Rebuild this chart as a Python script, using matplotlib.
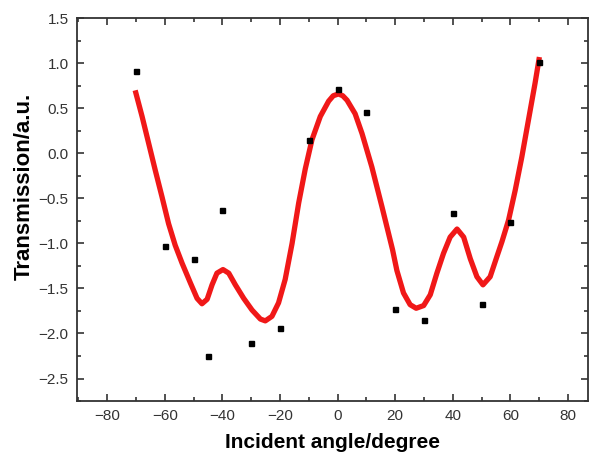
import numpy as np
import matplotlib
matplotlib.use("Agg")
from matplotlib import pyplot as plt
from matplotlib.ticker import MultipleLocator

# measured points
angle = [-70, -60, -50, -45, -40, -30, -20, -10, 0, 10, 20, 30, 40, 50, 60, 70]
trans = [0.91, -1.03, -1.17, -2.25, -0.63, -2.11, -1.94, 0.15, 0.72, 0.46,
         -1.73, -1.85, -0.66, -1.67, -0.76, 1.02]

# fitted curve
fit_x = [-70.3, -67.9, -65.6, -63.3, -61.0, -58.7, -56.4, -54.0, -51.1, -48.8,
         -47.1, -45.3, -43.6, -41.9, -39.8, -37.8, -35.5, -32.6, -29.7, -26.8,
         -25.1, -22.8, -20.5, -18.2, -15.8, -13.5, -11.2, -8.9, -6.0, -3.1,
         -1.5, 0.3, 1.8, 3.3, 6.1, 8.5, 11.9, 15.4, 19.1, 20.6, 22.9, 25.2,
         27.3, 29.9, 32.2, 34.5, 36.8, 39.1, 41.5, 43.8, 46.1, 48.4, 50.5,
         53.0, 55.3, 57.1, 59.4, 61.7, 64.0, 66.3, 68.6, 70.1]
fit_y = [0.70, 0.41, 0.11, -0.19, -0.48, -0.78, -1.02, -1.22, -1.44, -1.61,
         -1.67, -1.62, -1.46, -1.33, -1.29, -1.33, -1.46, -1.61, -1.74, -1.84,
         -1.86, -1.81, -1.66, -1.40, -1.00, -0.55, -0.17, 0.15, 0.41, 0.58,
         0.64, 0.66, 0.64, 0.59, 0.44, 0.22, -0.15, -0.59, -1.07, -1.30, -1.55,
         -1.68, -1.72, -1.69, -1.57, -1.33, -1.11, -0.93, -0.84, -0.93, -1.17,
         -1.37, -1.46, -1.37, -1.15, -0.98, -0.74, -0.41, -0.04, 0.37, 0.78,
         1.07]

plt.rcParams['font.family'] = ['Liberation Sans', 'DejaVu Sans']

fig = plt.figure(figsize=(5.97, 4.54), dpi=100)
ax = fig.add_axes([0.129, 0.1167, 0.856, 0.843])

ax.plot(fit_x, fit_y, color='#f01818', lw=3.8, solid_joinstyle='round',
        solid_capstyle='butt', zorder=2)
ax.plot(angle, trans, 's', color='black', ms=3.6, zorder=3)

ax.set_xlim(-90.5, 87)
ax.set_ylim(-2.75, 1.5)
ax.xaxis.set_major_locator(MultipleLocator(20))
ax.xaxis.set_minor_locator(MultipleLocator(10))
ax.yaxis.set_major_locator(MultipleLocator(0.5))
ax.yaxis.set_minor_locator(MultipleLocator(0.25))

ax.tick_params(which='both', direction='in', top=True, right=True,
               colors='#333333', labelsize=11, width=1.2, pad=6)
ax.tick_params(which='major', length=5)
ax.tick_params(which='minor', length=3)
for s in ax.spines.values():
    s.set_color('#333333')
    s.set_linewidth(1.3)

ax.set_xlabel('Incident angle/degree', fontsize=15, fontweight='bold', labelpad=7)
ax.set_ylabel('Transmission/a.u.', fontsize=16, fontweight='bold', va='center')
ax.yaxis.set_label_coords(-0.104, 0.56)

plt.savefig("out.png", dpi=100)
